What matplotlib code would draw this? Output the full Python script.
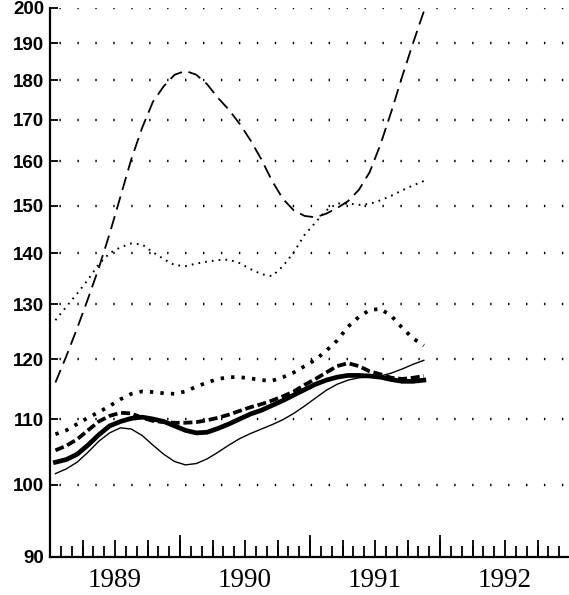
import numpy as np
import matplotlib
matplotlib.use("Agg")
import matplotlib.pyplot as plt
from matplotlib.ticker import FixedLocator, NullLocator, FixedFormatter

# monthly observations, Jan 1989 .. Nov 1991 (plotted at mid-month)
months = 1989 + (np.arange(35) + 0.5) / 12

long_dash = [116, 120.5, 125.5, 131, 137, 144, 152, 160.5, 168, 174.5,
             178.5, 181.5, 182.5, 181.5, 179, 175.5, 172.5, 169, 165, 160.5,
             155.5, 151.5, 149, 147.8, 147.5, 148.3, 149.5, 151, 153.5, 157.5,
             164, 172, 181, 190, 199]
fine_dot = [127, 129.5, 132, 134.7, 137.8, 140, 141.2, 142, 141.8, 140.2,
            138.8, 137.6, 137.4, 137.9, 138.3, 138.6, 138.7, 138, 136.8, 135.8,
            135.4, 137.4, 140.2, 143.8, 146.4, 149, 150.5, 150.5, 150.2, 150.4,
            151.2, 152.2, 153.4, 154.5, 155.5]
heavy_dot = [107.6, 108.2, 109.2, 110.2, 111.1, 112.1, 113.2, 114.1, 114.5, 114.4,
             114.2, 114.1, 114.5, 115.3, 116, 116.6, 116.9, 116.9, 116.7, 116.4,
             116.3, 116.9, 117.7, 118.8, 119.9, 121.5, 123.3, 125.8, 127.6, 128.9,
             129.1, 127.8, 125.6, 123.7, 122.4]
heavy_dash = [105.1, 105.8, 106.8, 108.2, 109.6, 110.5, 111, 110.9, 110.2, 109.7,
              109.5, 109.4, 109.4, 109.5, 109.8, 110.2, 110.7, 111.3, 111.9, 112.4,
              113, 113.7, 114.5, 115.6, 116.6, 117.7, 118.8, 119.3, 118.8, 117.9,
              117.4, 116.8, 116.6, 116.8, 117.1]
thick_solid = [103.3, 103.7, 104.5, 105.9, 107.5, 108.9, 109.6, 110.1, 110.3, 110,
               109.6, 108.9, 108.2, 107.8, 107.9, 108.5, 109.2, 110, 110.8, 111.4,
               112.2, 113, 113.9, 114.8, 115.7, 116.4, 116.9, 117.2, 117.2, 117.1,
               116.9, 116.5, 116.2, 116.2, 116.4]
thin_solid = [101.6, 102.3, 103.3, 104.8, 106.5, 107.8, 108.6, 108.4, 107.4, 105.9,
              104.5, 103.4, 102.9, 103.1, 103.8, 104.8, 105.9, 106.9, 107.7, 108.4,
              109.1, 109.9, 110.9, 112.1, 113.4, 114.7, 115.7, 116.4, 116.8, 116.9,
              117.1, 117.6, 118.3, 119.1, 119.8]

y_ticks = [90, 100, 110, 120, 130, 140, 150, 160, 170, 180, 190, 200]
years = [1989, 1990, 1991, 1992]

fig = plt.figure(figsize=(5.69, 5.95), dpi=100)
ax = fig.add_axes([0.0879, 0.0639, 0.914, 0.9227])

ax.plot(months, long_dash, color="black", lw=1.3, linestyle=(0, (7.5, 3.8)))
ax.plot(months, fine_dot, color="black", lw=1.4, linestyle=(0, (0.9, 2.6)))
ax.plot(months, heavy_dot, color="black", lw=2.7, linestyle=(0, (0.9, 1.9)))
ax.plot(months, heavy_dash, color="black", lw=2.7, linestyle=(0, (2.4, 1.0)))
ax.plot(months, thick_solid, color="black", lw=3.4)
ax.plot(months, thin_solid, color="black", lw=1.0)

# y axis (log scale)
ax.set_yscale("log")
ax.set_ylim(90, 200)
ax.yaxis.set_major_locator(FixedLocator(y_ticks))
ax.yaxis.set_major_formatter(FixedFormatter([str(v) for v in y_ticks]))
ax.yaxis.set_minor_locator(NullLocator())
ax.tick_params(axis="y", direction="in", length=6, width=1.3, pad=4)
for lab in ax.get_yticklabels():
    lab.set_fontfamily("Liberation Sans")
    lab.set_fontweight("bold")
    lab.set_fontsize(13.5)

# dotted grid
for v in y_ticks[1:]:
    ax.axhline(v, color="black", lw=1.7, linestyle=(-4, (0.6, 7.0)))

# x axis: year labels, month/quarter/year ticks
ax.set_xlim(1989, 1993)
ax.xaxis.set_major_locator(FixedLocator([y + 0.5 for y in years]))
ax.xaxis.set_major_formatter(FixedFormatter([str(y) for y in years]))
ax.xaxis.set_minor_locator(FixedLocator(1989 + np.arange(1, 48) / 12))
ax.tick_params(axis="x", which="major", length=0, pad=8)
ax.tick_params(axis="x", which="minor", direction="in", length=8, width=1.3)
for lab in ax.get_xticklabels():
    lab.set_fontfamily("Liberation Serif")
    lab.set_fontsize(19.5)

sec_q = ax.secondary_xaxis("bottom")
sec_q.set_xticks(1989 + np.arange(1, 16) / 4)
sec_q.set_xticklabels([])
sec_q.tick_params(direction="in", length=12.5, width=1.3)
sec_q.spines["bottom"].set_visible(False)

sec_y = ax.secondary_xaxis("bottom")
sec_y.set_xticks([1990, 1991, 1992])
sec_y.set_xticklabels([])
sec_y.tick_params(direction="in", length=16, width=1.3)
sec_y.spines["bottom"].set_visible(False)

ax.spines["top"].set_visible(False)
ax.spines["right"].set_visible(False)
ax.spines["left"].set_linewidth(1.6)
ax.spines["bottom"].set_linewidth(1.6)

fig.savefig("out.png", dpi=100)
